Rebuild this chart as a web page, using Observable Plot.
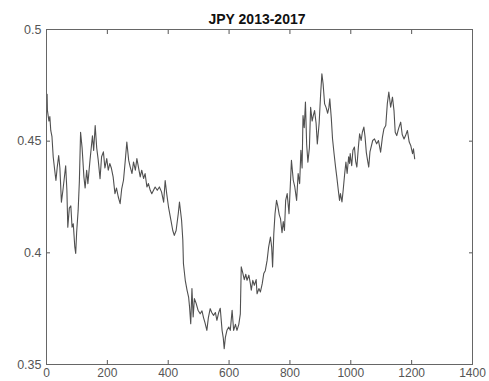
<!DOCTYPE html>
<html>
<head>
<meta charset="utf-8">
<script src="https://cdn.jsdelivr.net/npm/d3@7"></script>
<script src="https://cdn.jsdelivr.net/npm/@observablehq/plot@0.6"></script>
<style>
  html, body { margin: 0; padding: 0; background: #fff; }
  #wrap { width: 489px; height: 381px; overflow: hidden; }
  #title {
    width: 489px; height: 28px; box-sizing: border-box;
    padding-top: 12px; padding-left: 25px;
    font: bold 14px "Liberation Sans", Arial, Helvetica, sans-serif;
    line-height: 14px; text-align: center; color: #111;
  }
  svg { display: block; }
</style>
</head>
<body>
<div id="wrap">
  <div id="title"></div>
  <div id="chart"></div>
</div>
<script>
const chartTitle = "JPY 2013-2017";
const xTicks = [0, 200, 400, 600, 800, 1000, 1200, 1400];
const yTicks = [0.35, 0.4, 0.45, 0.5];
const yTickLabels = ["0.35", "0.4", "0.45", "0.5"];

const days = [
  0, 2, 3, 8, 11, 14, 18, 22, 27, 31, 35, 40, 44, 49, 54, 63, 67, 70, 75, 80,
  84, 88, 93, 96, 99, 104, 108, 112, 117, 123, 127, 132, 136, 143, 151, 155, 160, 165, 170, 176,
  181, 187, 192, 198, 203, 208, 213, 219, 225, 230, 236, 242, 247, 253, 259, 264, 270, 275, 281, 286,
  292, 297, 302, 308, 313, 319, 324, 330, 335, 341, 346, 357, 364, 371, 378, 385, 390, 395, 401, 409,
  415, 420, 426, 433, 437, 444, 448, 450, 456, 462, 467, 470, 474, 478, 482, 486, 492, 498, 505, 511,
  516, 521, 527, 532, 538, 543, 549, 555, 560, 566, 571, 577, 581, 584, 588, 593, 599, 604, 610, 615,
  621, 626, 632, 637, 640, 645, 650, 655, 659, 665, 670, 673, 678, 683, 689, 692, 698, 703, 709, 714,
  719, 725, 730, 736, 740, 743, 747, 751, 756, 760, 765, 769, 774, 778, 782, 786, 791, 797, 805, 811,
  816, 822, 827, 832, 836, 840, 843, 847, 851, 855, 859, 864, 868, 873, 877, 881, 886, 890, 896, 901,
  905, 909, 914, 919, 924, 928, 931, 936, 940, 945, 950, 954, 959, 963, 966, 971, 975, 980, 984, 988,
  993, 996, 998, 1003, 1007, 1012, 1016, 1020, 1025, 1029, 1034, 1038, 1043, 1047, 1051, 1055, 1059, 1063, 1072, 1078,
  1085, 1091, 1098, 1104, 1109, 1115, 1120, 1125, 1131, 1137, 1142, 1146, 1151, 1157, 1164, 1169, 1175, 1180, 1186, 1192,
  1197, 1203, 1206, 1210
];
const rate = [
  0.469, 0.471, 0.4638, 0.459, 0.461, 0.4548, 0.452, 0.443, 0.437, 0.4324, 0.438, 0.4436, 0.438, 0.4227, 0.428, 0.439, 0.428, 0.4115, 0.42, 0.421,
  0.4115, 0.413, 0.4026, 0.3997, 0.409, 0.419, 0.432, 0.454, 0.447, 0.4339, 0.429, 0.437, 0.431, 0.4415, 0.4524, 0.4458, 0.457, 0.447, 0.4415, 0.4332,
  0.443, 0.4452, 0.438, 0.4422, 0.437, 0.44, 0.438, 0.434, 0.4265, 0.429, 0.425, 0.422, 0.4285, 0.4325, 0.4415, 0.4496, 0.4415, 0.4385, 0.4355, 0.4407,
  0.437, 0.4422, 0.4385, 0.434, 0.437, 0.4333, 0.4355, 0.4295, 0.431, 0.428, 0.4265, 0.4295, 0.428, 0.4295, 0.4273, 0.4227, 0.4324, 0.4265, 0.4205, 0.4145,
  0.410, 0.4078, 0.41, 0.4175, 0.4227, 0.4145, 0.4056, 0.3952, 0.3877, 0.3832, 0.3802, 0.376, 0.3683, 0.384, 0.3713, 0.3795, 0.3773, 0.3743, 0.3727, 0.374,
  0.371, 0.3686, 0.3653, 0.371, 0.375, 0.3733, 0.372, 0.3733, 0.3698, 0.3733, 0.3752, 0.3653, 0.3618, 0.3571, 0.3623, 0.3653, 0.3668, 0.3653, 0.3743, 0.3653,
  0.368, 0.3653, 0.368, 0.3727, 0.3937, 0.391, 0.388, 0.3904, 0.3877, 0.390, 0.3862, 0.3833, 0.3877, 0.3855, 0.388, 0.3817, 0.384, 0.3825, 0.3862, 0.3907,
  0.392, 0.3966, 0.4026, 0.4071, 0.4026, 0.3937, 0.4086, 0.4175, 0.4235, 0.421, 0.417, 0.4153, 0.409, 0.414, 0.41, 0.4235, 0.4265, 0.4175, 0.4414, 0.4325,
  0.4295, 0.4235, 0.4355, 0.431, 0.4459, 0.438, 0.4615, 0.456, 0.4675, 0.4485, 0.4406, 0.447, 0.4652, 0.459, 0.4615, 0.4637, 0.458, 0.4488, 0.458, 0.4712,
  0.4802, 0.4757, 0.4667, 0.465, 0.4625, 0.465, 0.469, 0.4602, 0.4511, 0.4445, 0.4384, 0.434, 0.428, 0.4235, 0.4265, 0.4228, 0.428, 0.4355, 0.4406, 0.4355,
  0.443, 0.44, 0.4444, 0.439, 0.4459, 0.4474, 0.441, 0.4384, 0.4474, 0.4533, 0.4503, 0.454, 0.4563, 0.4518, 0.445, 0.4415, 0.4384, 0.4452, 0.4503, 0.451,
  0.4488, 0.4503, 0.4451, 0.4518, 0.4556, 0.457, 0.4667, 0.472, 0.4652, 0.4697, 0.4637, 0.454, 0.4525, 0.4556, 0.4585, 0.453, 0.451, 0.4525, 0.4548, 0.4496,
  0.4481, 0.4444, 0.4466, 0.4421
];

const data = days.map((d, i) => ({day: d, rate: rate[i]}));
const yLabel = d => yTickLabels[yTicks.indexOf(d)];
const blank = () => "";

document.getElementById("title").textContent = chartTitle;

const chart = Plot.plot({
  width: 489,
  height: 353,
  marginTop: 1,
  marginBottom: 17,
  marginLeft: 46,
  marginRight: 17,
  style: {fontFamily: "'Liberation Sans', Arial, Helvetica, sans-serif", fontSize: "12.5px", color: "#555", background: "#fff", overflow: "visible"},
  x: {domain: [0, 1400]},
  y: {domain: [0.35, 0.5]},
  marks: [
    Plot.axisX(xTicks, {anchor: "bottom", tickSize: 0, tickPadding: 4, label: null, fontSize: 12, tickFormat: d => String(d)}),
    Plot.axisX(xTicks, {anchor: "bottom", tickSize: -4, tickPadding: 0, label: null, tickFormat: blank, stroke: "#555"}),
    Plot.axisX(xTicks, {anchor: "top", tickSize: -4, tickPadding: 0, label: null, tickFormat: blank, stroke: "#555"}),
    Plot.axisY(yTicks, {anchor: "left", tickSize: 0, tickPadding: 5, label: null, tickFormat: yLabel}),
    Plot.axisY(yTicks, {anchor: "left", tickSize: -4, tickPadding: 0, label: null, tickFormat: blank, stroke: "#555"}),
    Plot.axisY(yTicks, {anchor: "right", tickSize: -4, tickPadding: 0, label: null, tickFormat: blank, stroke: "#555"}),
    Plot.line(data, {x: "day", y: "rate", stroke: "#505050", strokeWidth: 1.1}),
    Plot.frame({stroke: "#666"})
  ]
});
document.getElementById("chart").appendChild(chart);
</script>
</body>
</html>
